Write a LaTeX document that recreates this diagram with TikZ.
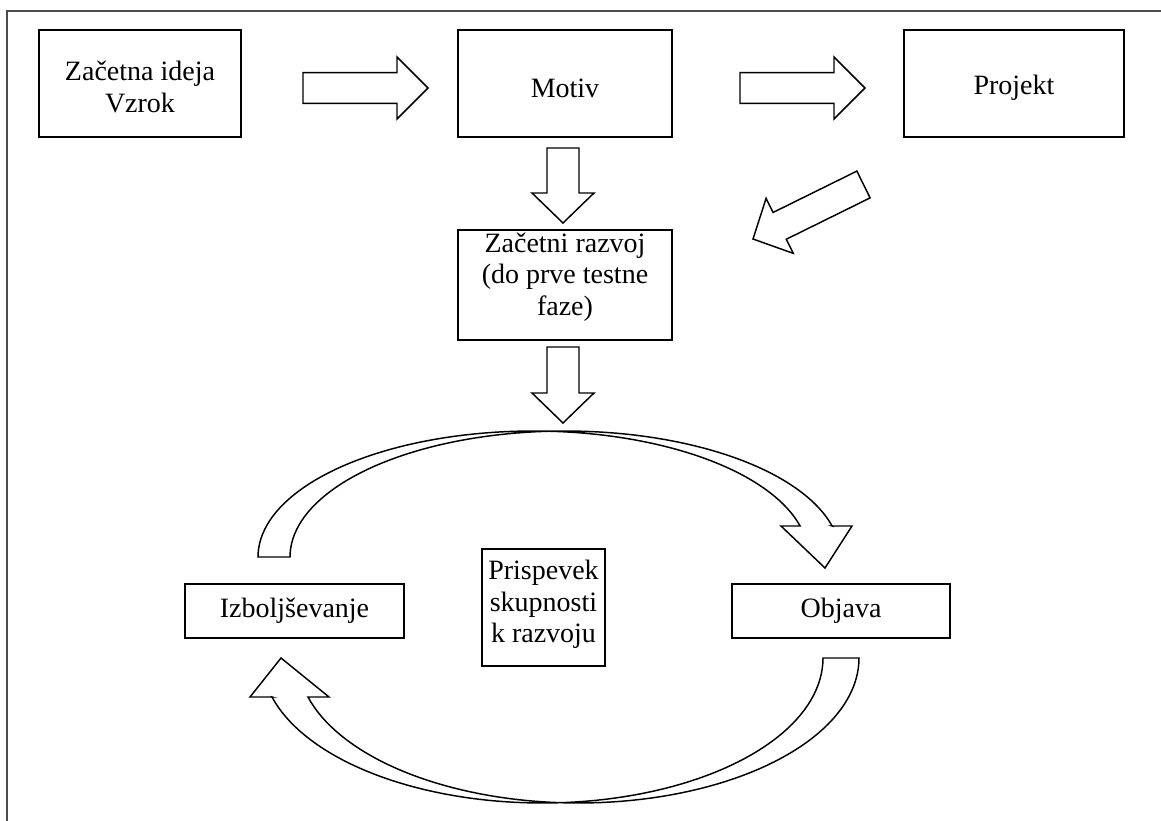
\documentclass[tikz,border=0pt]{standalone}
\usepackage{fontspec}
\setmainfont{Liberation Serif}
\usetikzlibrary{calc}
\tikzset{
  box/.style={draw=black, line width=0.8pt, fill=white, inner sep=0pt},
  txt/.style={align=center, inner sep=0pt, font=\fontsize{21}{23.5}\selectfont},
  blk/.style={draw=black, line width=1.1pt, fill=white, line join=miter},
}
% Straight block arrow: start, tip, shaft half-width, head half-width, head length
\newcommand{\blockarr}[5]{%
  \coordinate (ba s) at (#1);
  \coordinate (ba e) at (#2);
  \coordinate (ba h) at ($(ba e)!#5!(ba s)$);
  \draw[blk] ($(ba s)!#3!90:(ba e)$) -- ($(ba h)!#3!90:(ba e)$)
    -- ($(ba h)!#4!90:(ba e)$) -- (ba e) -- ($(ba h)!#4!-90:(ba e)$)
    -- ($(ba h)!#3!-90:(ba e)$) -- ($(ba s)!#3!-90:(ba e)$) -- cycle;}
\begin{document}
\begin{tikzpicture}[x=0.75pt,y=-0.75pt]
\useasboundingbox (0,0) rectangle (1161,821);
% frame
\draw[gray!60!black, line width=1.1pt] (1161,11) -- (7,11) -- (7,821);

% boxes
\node[box, minimum width=151.5pt, minimum height=80.25pt] (ideja) at (140,83.5) {};
\node[box, minimum width=160.5pt, minimum height=80.25pt] (motiv) at (565,83.5) {};
\node[box, minimum width=165pt, minimum height=80.25pt] (projekt) at (1014,83.5) {};
\node[box, minimum width=160.5pt, minimum height=82.5pt] (razvoj) at (565,285) {};
\node[box, minimum width=164.25pt, minimum height=40.5pt] (izbolj) at (294.5,611) {};
\node[box, minimum width=92.25pt, minimum height=87.75pt] (prispevek) at (543.5,607.5) {};
\node[box, minimum width=163.5pt, minimum height=40.5pt] (objava) at (841,611) {};

% box texts
\node[txt] (ideja-t) at ($(ideja)+(0,3.5)$) {Začetna ideja\\Vzrok};
\node[txt] (motiv-t) at ($(motiv)+(0,4.5)$) {Motiv};
\node[txt] (projekt-t) at ($(projekt)+(0,4.5)$) {Projekt};
\node[txt] (razvoj-t) at ($(razvoj)+(0,-8)$) {Začetni razvoj\\(do prve testne\\faze)};
\node[txt] (izbolj-t) at (izbolj) {Izboljševanje};
\node[txt] (prispevek-t) at ($(prispevek)+(0,-3)$) {Prispevek\\skupnosti\\k razvoju};
\node[txt] (objava-t) at (objava) {Objava};

% arrow end points
\coordinate (a1s) at (303,88);   \coordinate (a1e) at (428,88);
\coordinate (a2s) at (740,88);   \coordinate (a2e) at (865,88);
\coordinate (d1s) at (563,148);  \coordinate (d1e) at (563,223);
\coordinate (d2s) at (563,347);  \coordinate (d2e) at (563,423);
\coordinate (g1s) at (863.5,184.5); \coordinate (g1e) at (753,239);

\blockarr{a1s}{a1e}{11.6pt}{23.25pt}{23.25pt}
\blockarr{a2s}{a2e}{11.6pt}{23.25pt}{23.25pt}
\blockarr{d1s}{d1e}{12pt}{23.25pt}{22.5pt}
\blockarr{d2s}{d2e}{12pt}{23.25pt}{22.5pt}
\blockarr{g1s}{g1e}{11.2pt}{23pt}{22.3pt}

% curved arrow over the top: Izboljševanje -> Objava
\draw[blk] (258,557)
  -- plot[domain=180:345.76, samples=80, variable=\t] ({533.3+275.3*cos(\t)}, {557+126*sin(\t)})
  -- (781,526) -- (825,568) -- (852,526) -- (832.1,526)
  -- plot[domain=345.76:180, samples=80, variable=\t] ({565.3+275.3*cos(\t)}, {557+126*sin(\t)})
  -- cycle;

% curved arrow underneath: Objava -> Izboljševanje
\draw[blk] (823,658) -- (859,658)
  -- plot[domain=0:164.4, samples=80, variable=\t] ({578.3+280.7*cos(\t)}, {658+145*sin(\t)})
  -- (329,697) -- (281,658) -- (250,697) -- (272,697)
  -- plot[domain=164.4:0, samples=80, variable=\t] ({542.3+280.7*cos(\t)}, {658+145*sin(\t)})
  -- cycle;
\end{tikzpicture}
\end{document}
